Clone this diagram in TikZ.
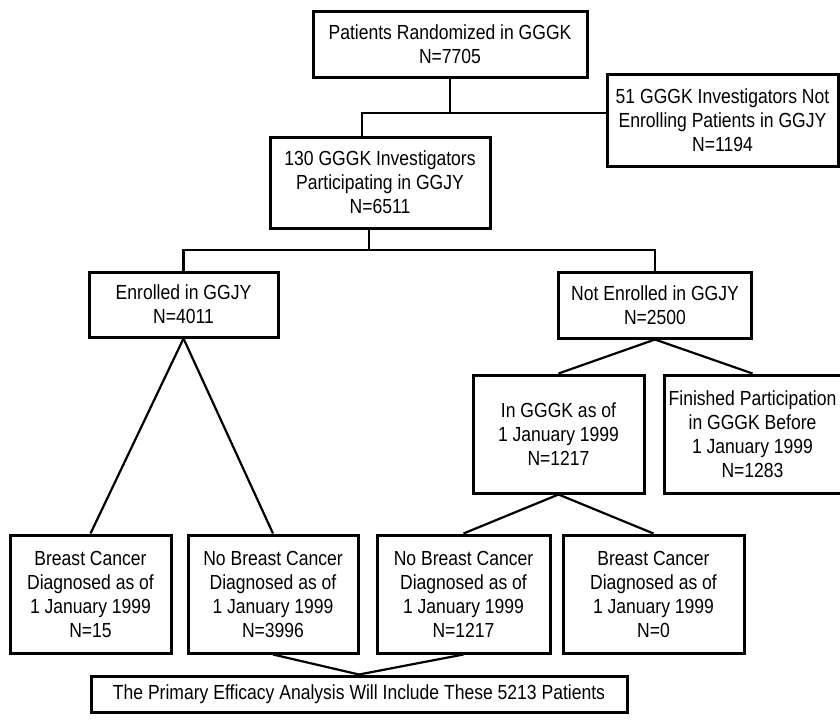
\documentclass[tikz,border=0pt]{standalone}
\usepackage{fontspec}
\setmainfont[FakeStretch=0.86]{Liberation Sans}
\usetikzlibrary{positioning,calc}
\tikzset{
  box/.style={rectangle, draw=black!100, line width=3pt, align=center, inner sep=0pt,
    font=\fontsize{20.4}{24}\selectfont},
  connect/.style={line width=2.2pt}
}

\begin{document}
\begin{tikzpicture}[x=1pt, y=-1pt]
  \useasboundingbox (0,0) rectangle (840,720);
  % top part
  \node[box, minimum width=274pt, minimum height=66pt] (rand) at (450,44) {Patients Randomized in GGGK\\N=7705};
  \node[box, minimum width=231pt, minimum height=92pt] (notpart) at (722.5,120) {51 GGGK Investigators Not\\Enrolling Patients in GGJY\\N=1194};
  \node[box, minimum width=220pt, minimum height=91pt] (part) at (380,182.5) {130 GGGK Investigators\\Participating in GGJY\\N=6511};
  \coordinate (join) at (362,113);
  \draw[connect] (rand.south) -- (rand.south |- join);
  \draw[connect] (part.north -| join) -- (join) -- (notpart.west |- join);
  % second level
  \node[box, minimum width=189pt, minimum height=65pt] (enr) at (183.5,304.5) {Enrolled in GGJY\\N=4011};
  \node[box, minimum width=193pt, minimum height=66pt] (notenr) at (655,305) {Not Enrolled in GGJY\\N=2500};
  \coordinate (split) at (369,250);
  \draw[connect] (part.south -| split) -- (split);
  \draw[connect] (enr.north) |- (split) -| (notenr.north);
  % third level
  \node[box, minimum width=171pt, minimum height=118pt] (ingggk) at (558.5,434) {In GGGK as of\\1 January 1999\\N=1217};
  \node[box, minimum width=177pt, minimum height=118pt] (fin) [right=17pt of ingggk] {Finished Participation\\in GGGK Before\\1 January 1999\\N=1283};
  % bottom row
  \node[box, minimum width=161pt, minimum height=118pt] (bc1) at (90.5,594) {Breast Cancer\\Diagnosed as of\\1 January 1999\\N=15};
  \node[box, minimum width=170pt, minimum height=118pt] (nbc2) [right=14pt of bc1] {No Breast Cancer\\Diagnosed as of\\1 January 1999\\N=3996};
  \node[box, minimum width=173pt, minimum height=118pt] (nbc3) [right=16pt of nbc2] {No Breast Cancer\\Diagnosed as of\\1 January 1999\\N=1217};
  \node[box, minimum width=181pt, minimum height=118pt] (bc4) [right=10pt of nbc3] {Breast Cancer\\Diagnosed as of\\1 January 1999\\N=0};
  \node[box, minimum width=536pt, minimum height=36pt] (total) at (359,694) {The Primary Efficacy Analysis Will Include These 5213 Patients};
  \foreach \a/\b in {notenr/ingggk, notenr/fin, enr/bc1, enr/nbc2, ingggk/nbc3, ingggk/bc4} {
    \path (\a.south) edge [connect] (\b.north);
  }
  \path (nbc2.south) edge [connect] (total.north);
  \path (nbc3.south) edge [connect] (total.north);
\end{tikzpicture}
\end{document}
